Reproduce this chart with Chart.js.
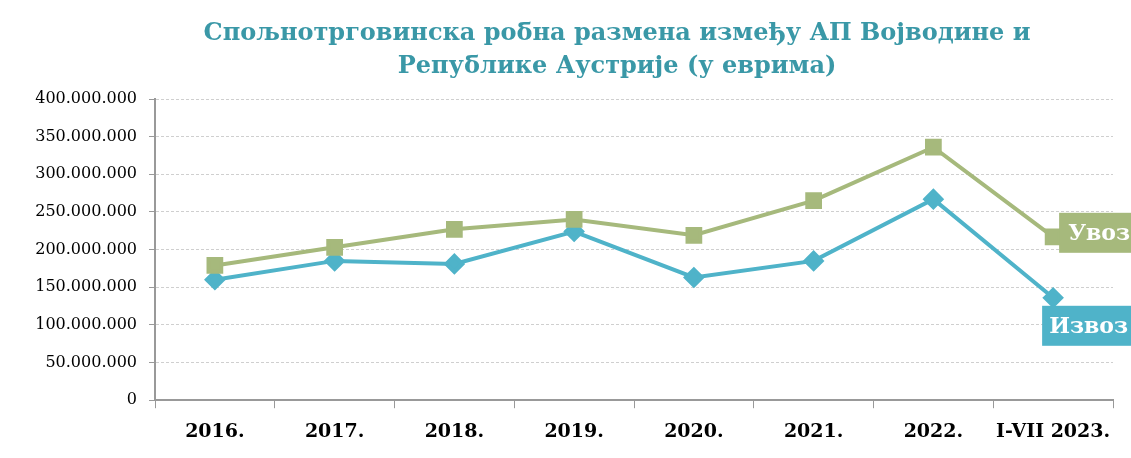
<!DOCTYPE html>
<html lang="sr">
<head>
  <meta charset="UTF-8">
  <title>Спољнотрговинска робна размена</title>
  <script src="https://cdn.jsdelivr.net/npm/chart.js"></script>
  <style>
    html, body { margin: 0; padding: 0; background: #fff; }
    canvas { display: block; }
  </style>
</head>
<body>
  <canvas id="myChart" width="1131" height="458"></canvas>

  <script>
    const categories = ['2016.', '2017.', '2018.', '2019.', '2020.', '2021.', '2022.', 'I-VII 2023.'];
    const uvoz = [179000000, 203000000, 227000000, 240000000, 219000000, 265000000, 336000000, 217000000];
    const izvoz = [160000000, 185000000, 181000000, 224000000, 163000000, 185000000, 267000000, 136000000];
    const seriesNames = ['Увоз', 'Извоз'];
    const titleLines = ['Спољнотрговинска робна размена између АП Војводине и', 'Републике Аустрије (у еврима)'];

    const green = '#a6b97c';
    const blue = '#4fb3c9';
    const serif = "'DejaVu Serif', serif";

    // title drawn by hand so it can sit a bit right of the canvas centre
    const titlePlugin = {
      id: 'titlePlugin',
      afterDraw(chart) {
        const c = chart.ctx;
        c.save();
        c.fillStyle = '#3a98a7';
        c.font = 'bold 24px ' + serif;
        c.textAlign = 'center';
        c.textBaseline = 'middle';
        titleLines.forEach((t, i) => c.fillText(t, 617, 34 + i * 33));
        c.restore();
      }
    };

    // labels at the end of each line
    const endLabels = {
      id: 'endLabels',
      afterDatasetsDraw(chart) {
        const c = chart.ctx;
        const boxes = [
          { dx: 6, dy: -24, padX: 9 },
          { dx: -11, dy: 8, padX: 7 }
        ];
        chart.data.datasets.forEach((ds, i) => {
          const meta = chart.getDatasetMeta(i);
          const p = meta.data[meta.data.length - 1];
          const b = boxes[i];
          c.save();
          c.fillStyle = ds.borderColor;
          c.fillRect(p.x + b.dx, p.y + b.dy, 120, 40);
          c.fillStyle = '#fff';
          c.font = 'bold 22px ' + serif;
          c.textBaseline = 'middle';
          c.fillText(ds.label, p.x + b.dx + b.padX, p.y + b.dy + 21);
          c.restore();
        });
      }
    };

    const ctx = document.getElementById('myChart').getContext('2d');
    const chart = new Chart(ctx, {
      type: 'line',
      data: {
        labels: categories,
        datasets: [{
          label: seriesNames[0],
          data: uvoz,
          borderColor: green,
          backgroundColor: green,
          borderWidth: 4,
          pointStyle: 'rect',
          pointRadius: 9,
          pointHoverRadius: 9,
          tension: 0
        }, {
          label: seriesNames[1],
          data: izvoz,
          borderColor: blue,
          backgroundColor: blue,
          borderWidth: 4,
          pointStyle: 'rectRot',
          pointRadius: 8,
          pointHoverRadius: 8,
          tension: 0
        }]
      },
      options: {
        responsive: false,
        animation: false,
        layout: { padding: { left: 0, right: 18, top: 99, bottom: 3 } },
        plugins: {
          legend: { display: false },
          tooltip: { enabled: false },
          title: { display: false }
        },
        scales: {
          x: {
            offset: true,
            grid: {
              offset: true,
              drawOnChartArea: false,
              drawTicks: true,
              tickLength: 8,
              tickColor: '#999',
              lineWidth: 1
            },
            border: { color: '#999', width: 2 },
            ticks: {
              color: '#000',
              padding: 12,
              maxRotation: 0,
              font: { family: serif, size: 19, weight: 'bold' }
            }
          },
          y: {
            min: 0,
            max: 400000000,
            afterFit(scale) { scale.width = 155; },
            grid: {
              color: '#cfcfcf',
              tickBorderDash: [],
              tickColor: '#999',
              tickLength: 6
            },
            border: { color: '#999', width: 2, dash: [3, 2] },
            ticks: {
              stepSize: 50000000,
              color: '#000',
              padding: 12,
              font: { family: serif, size: 16 },
              callback: function(v) {
                return v.toString().replace(/\B(?=(\d{3})+(?!\d))/g, '.');
              }
            }
          }
        }
      },
      plugins: [endLabels, titlePlugin]
    });
  </script>
</body>
</html>
